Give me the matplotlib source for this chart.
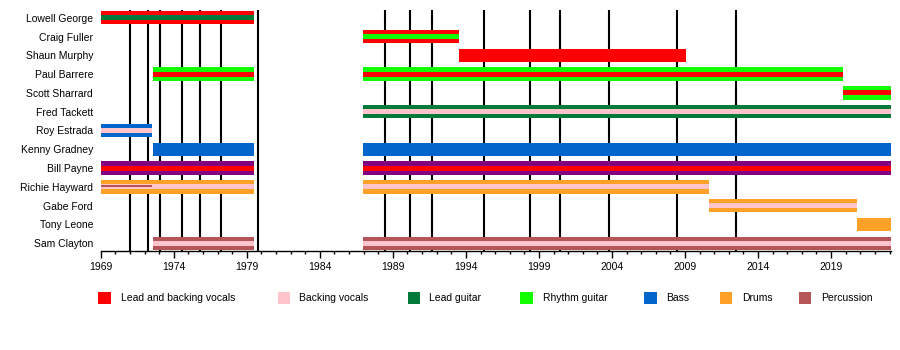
import matplotlib
matplotlib.use("Agg")
import matplotlib.pyplot as plt
from matplotlib.patches import Rectangle
from matplotlib.ticker import MultipleLocator, FixedLocator

plt.rcParams['font.family'] = ['Liberation Sans', 'DejaVu Sans']

# ---------------- data ----------------
members = ["Lowell George", "Craig Fuller", "Shaun Murphy", "Paul Barrere",
           "Scott Sharrard", "Fred Tackett", "Roy Estrada", "Kenny Gradney",
           "Bill Payne", "Richie Hayward", "Gabe Ford", "Tony Leone", "Sam Clayton"]

START = 1969.0
END = 2023.1

role_names = ["Lead and backing vocals", "Backing vocals", "Lead guitar",
              "Rhythm guitar", "Bass", "Drums", "Percussion", "Keyboards"]
role_colors = ["#ff0000", "#ffc4cc", "#047a3a", "#11ff00", "#0066cc",
               "#ffa126", "#b55558", "#800080"]
legend_roles = role_names[:7]

# membership periods: member, start, end, main role, stripe role
bar_member = ["Lowell George", "Craig Fuller", "Shaun Murphy",
              "Paul Barrere", "Paul Barrere", "Scott Sharrard",
              "Fred Tackett", "Roy Estrada",
              "Kenny Gradney", "Kenny Gradney",
              "Bill Payne", "Bill Payne",
              "Richie Hayward", "Richie Hayward", "Gabe Ford", "Tony Leone",
              "Sam Clayton", "Sam Clayton"]
bar_start = [1969.0, 1986.94, 1993.53,
             1972.58, 1986.94, 2019.84,
             1986.94, 1969.0,
             1972.58, 1986.94,
             1969.0, 1986.94,
             1969.0, 1986.94, 2010.63, 2020.76,
             1972.58, 1986.94]
bar_end = [1979.5, 1993.53, 2009.05,
           1979.5, 2019.84, END,
           END, 1972.5,
           1979.5, END,
           1979.5, END,
           1979.5, 2010.63, 2020.76, END,
           1979.5, END]
bar_role = ["Lead and backing vocals", "Lead and backing vocals", "Lead and backing vocals",
            "Rhythm guitar", "Rhythm guitar", "Rhythm guitar",
            "Lead guitar", "Bass",
            "Bass", "Bass",
            "Keyboards", "Keyboards",
            "Drums", "Drums", "Drums", "Drums",
            "Percussion", "Percussion"]
bar_stripe = ["Lead guitar", "Rhythm guitar", None,
              "Lead and backing vocals", "Lead and backing vocals", "Lead and backing vocals",
              "Backing vocals", "Backing vocals",
              None, None,
              "Lead and backing vocals", "Lead and backing vocals",
              "Backing vocals", "Backing vocals", "Backing vocals", None,
              "Backing vocals", "Backing vocals"]

# extra thin stripe
extra_member = ["Richie Hayward"]
extra_start = [1969.0]
extra_end = [1972.5]
extra_role = ["Percussion"]

# album release lines
album_years = [1971.0, 1972.26, 1973.03, 1974.54, 1975.77, 1977.25, 1979.78,
               1988.48, 1990.19, 1991.67, 1995.25, 1998.39, 2000.44, 2003.79,
               2008.42, 2012.52]

major_ticks = list(range(1969, 2020, 5))
tick_labels = [str(y) for y in major_ticks]

# ---------------- layout ----------------
W, H = 900, 350
fig = plt.figure(figsize=(9, 3.5), dpi=100)
ax_left, ax_right, ax_top, ax_bottom = 100.7, 891.0, 10.0, 251.0
ax = fig.add_axes([ax_left / W, 1 - ax_bottom / H,
                   (ax_right - ax_left) / W, (ax_bottom - ax_top) / H])

color_of = dict(zip(role_names, role_colors))
row_of = {m: i for i, m in enumerate(members)}
BAR_H = 0.72
STRIPE_H = 0.26
EXTRA_H = 0.12

for x in album_years:
    ax.axvline(x, color="black", lw=1.5, zorder=1)

for m, s, e, r, st in zip(bar_member, bar_start, bar_end, bar_role, bar_stripe):
    y = row_of[m]
    ax.barh(y, e - s, left=s, height=BAR_H, color=color_of[r], lw=0, zorder=2)
    if st is not None:
        ax.barh(y, e - s, left=s, height=STRIPE_H, color=color_of[st], lw=0, zorder=3)

for m, s, e, r in zip(extra_member, extra_start, extra_end, extra_role):
    y = row_of[m]
    ax.barh(y - 0.05, e - s, left=s, height=EXTRA_H, color=color_of[r], lw=0, zorder=4)

ax.set_xlim(START, END)
ax.set_ylim(len(members) - 1 + 0.41, -0.41)
ax.set_yticks(range(len(members)))
ax.set_yticklabels(members, fontsize=7.5)
ax.tick_params(axis="y", length=0, pad=5.5)
ax.xaxis.set_major_locator(FixedLocator(major_ticks))
ax.set_xticklabels(tick_labels, fontsize=7.5)
ax.xaxis.set_minor_locator(MultipleLocator(1))
ax.tick_params(axis="x", which="major", length=5, width=1, pad=3, direction="out")
ax.tick_params(axis="x", which="minor", length=2.5, width=1, direction="out")
for sp in ["top", "right", "left"]:
    ax.spines[sp].set_visible(False)
ax.spines["bottom"].set_linewidth(1)

# legend
legend_swatch_x = [98.3, 277.7, 407.5, 520.3, 644.3, 719.5, 798.5]
legend_text_x = [120.7, 299.3, 429.3, 542.7, 666.0, 741.7, 820.7]
sw = 12.3
leg_y = 298.3
for r, sx, tx in zip(legend_roles, legend_swatch_x, legend_text_x):
    fig.add_artist(Rectangle((sx / W, 1 - (leg_y + sw / 2) / H), sw / W, sw / H,
                             transform=fig.transFigure, color=color_of[r], lw=0))
    fig.text(tx / W, 1 - leg_y / H, r, fontsize=7.5, va="center", ha="left")

fig.savefig("out.png", dpi=100, facecolor="white")
